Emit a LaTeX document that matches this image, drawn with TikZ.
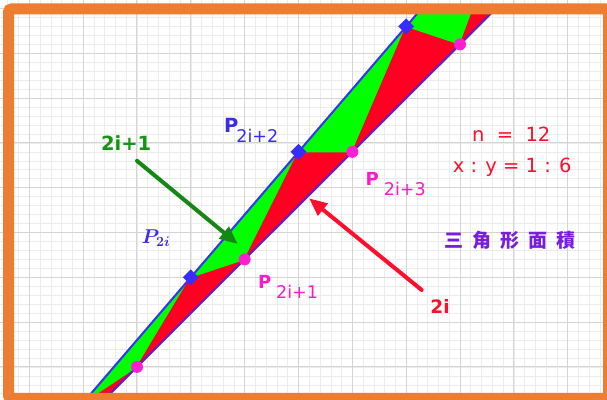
\documentclass[tikz,border=0pt]{standalone}
\usepackage{fix-cm}
\usepackage{fontspec}
\newfontfamily\labelfont{DejaVu Sans}
\newfontfamily\cjkfont{Noto Sans CJK SC}
\usetikzlibrary{arrows.meta, shapes.geometric}
\definecolor{ggorange}{RGB}{237,125,49}
\definecolor{gridlight}{RGB}{236,236,236}
\definecolor{griddark}{RGB}{212,212,212}
\definecolor{trigreen}{RGB}{0,255,0}
\definecolor{trired}{RGB}{255,0,35}
\definecolor{lineblue}{RGB}{50,50,255}
\definecolor{linepurple}{RGB}{100,30,200}
\definecolor{ptblue}{RGB}{55,45,255}
\definecolor{ptpink}{RGB}{255,30,210}
\definecolor{labblue}{RGB}{55,45,230}
\definecolor{labpink}{RGB}{255,25,200}
\definecolor{txtred}{RGB}{255,15,45}
\definecolor{txtgreen}{RGB}{20,150,20}
\definecolor{arrgreen}{RGB}{20,135,20}
\definecolor{cjkpurple}{RGB}{120,30,220}
\tikzset{
    gridminor/.style={draw=gridlight, line width=0.6pt},
    gridmajor/.style={draw=griddark, line width=1pt},
    frame/.style={draw=ggorange, line width=11pt, rounded corners=3pt},
    greentri/.style={fill=trigreen, draw=trigreen, line width=0.8pt, line join=round},
    redtri/.style={fill=trired, draw=trired!92!black, line width=0.8pt, line join=round},
    upline/.style={draw=lineblue, line width=2pt},
    lowline/.style={draw=linepurple, line width=2pt},
    bluept/.style={diamond, fill=ptblue, inner sep=0pt, minimum size=16pt},
    pinkpt/.style={circle, fill=ptpink, inner sep=0pt, minimum size=12pt},
    lbl/.style={inner sep=0pt, font=\labelfont},
    vec/.style={line width=4pt, line cap=round, -{Triangle[length=18pt, width=15pt]}},
}
\newcommand{\psub}[4]{{\fontsize{#1}{#1}\selectfont\bfseries P}\hspace{#3}\raisebox{-10pt}{\fontsize{#2}{#2}\selectfont #4}}

\begin{document}
\begin{tikzpicture}[x=53.84pt, y=44.8pt]
    \useasboundingbox (-0.5442,-0.7165) rectangle (10.7299,8.1897);
    \fill[white] (-0.5442,-0.7165) rectangle (10.7299,8.1897);
    \draw[gridminor] (-0.6,-0.8) grid[step={(0.2,0.2)}] (10.8,8.2);
    \draw[gridmajor] (-0.6,-0.8) grid[step={(1,1)}] (10.8,8.2);
    % points on the two rays
    \foreach \m in {0,...,6} {
        \coordinate (U\m) at ({2*\m-1},{2.8*\m-3.6});
        \coordinate (L\m) at ({2*\m},{2.4*\m-2.4});
    }
    \begin{scope}
        \clip (-0.386,-0.705) rectangle (10.758,7.989);
        \foreach \m [count=\n from 1] in {0,...,5} {
            \filldraw[greentri] (U\m) -- (L\m) -- (U\n) -- cycle;
            \filldraw[redtri] (L\m) -- (U\n) -- (L\n) -- cycle;
        }
        \draw[upline] (U0) -- (U6);
        \draw[lowline] (U0) -- (L6);
    \end{scope}
    \foreach \m in {2,3,4} \node[bluept] (pu\m) at (U\m) {};
    \foreach \m in {1,...,4} \node[pinkpt] (pl\m) at (L\m) {};
    \node[lbl, text=labblue, anchor=base west] (labpb) at (3.616,5.221) {\psub{19.5}{17.5}{-2pt}{2i+2}};
    \node[lbl, text=labpink, anchor=base west] (labpc) at (6.245,4.060) {\psub{18}{17.5}{5pt}{2i+3}};
    \node[lbl, text=labpink, anchor=base west] (labpa) at (4.245,1.754) {\psub{18}{17.5}{5pt}{2i+1}};
    \node[lbl, text=labblue, anchor=base west, font=\fontsize{20}{20}\selectfont\boldmath] (labp) at (2.084,2.759) {$P_{2i}$};
    \node[lbl, text=txtgreen, anchor=base, font=\labelfont\bfseries\fontsize{19.5}{20}\selectfont] (labodd) at (1.8,4.826) {2i+1};
    \node[lbl, text=txtred, anchor=base, font=\labelfont\bfseries\fontsize{18.5}{19}\selectfont] (labeven) at (7.628,1.196) {2i};
    \node[lbl, text=txtred, anchor=base, font=\labelfont\fontsize{19.5}{20}\selectfont] (nval) at (8.951,5.042) {n\ \ =\ \ 12};
    \node[lbl, text=txtred, anchor=base, font=\labelfont\fontsize{19.5}{20}\selectfont] (ratio) at (8.969,4.335) {x : y = 1 : 6};
    \node[lbl, text=cjkpurple, font=\cjkfont\bfseries\fontsize{19}{19}\selectfont] (area) at (8.928,2.821) {三\hspace{9pt}角\hspace{9pt}形\hspace{9pt}面\hspace{9pt}積};
    \coordinate (gtail) at (2,4.6);
    \coordinate (gtip) at (3.871,2.743);
    \coordinate (rtail) at (7.288,1.717);
    \coordinate (rtip) at (5.195,3.763);
    \draw[vec, arrgreen] (gtail) -- (gtip);
    \draw[vec, txtred] (rtail) -- (rtip);
    \draw[frame] (-0.386,-0.705) rectangle (10.758,7.989);
\end{tikzpicture}
\end{document}
